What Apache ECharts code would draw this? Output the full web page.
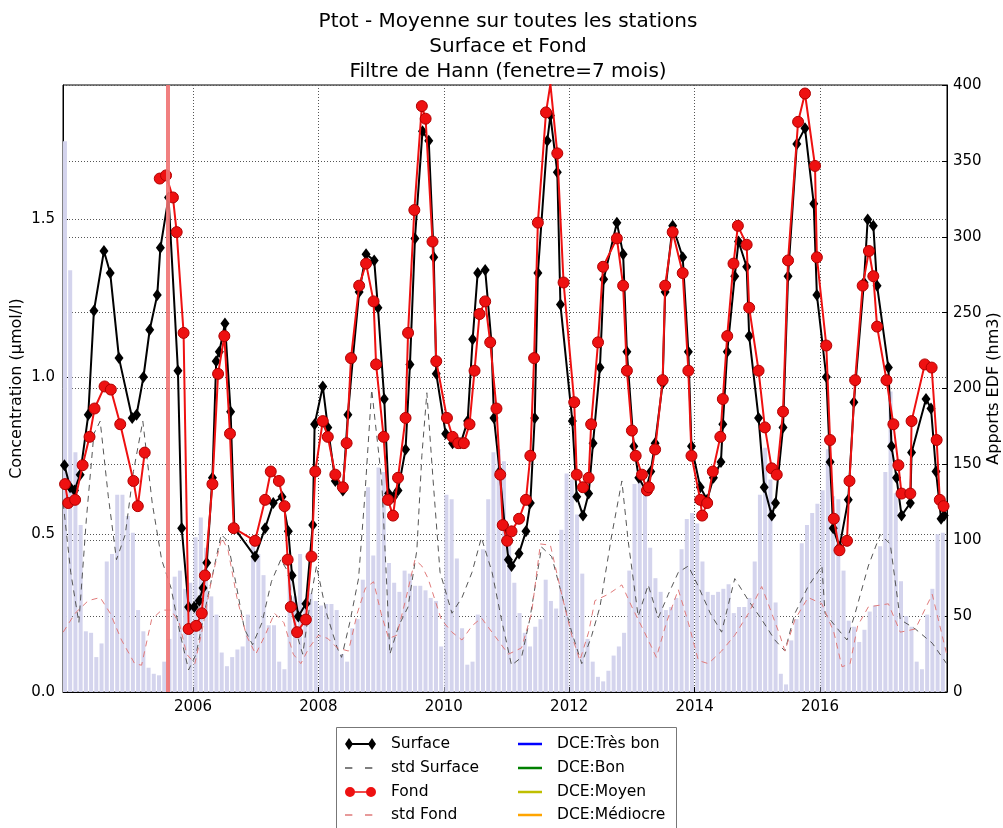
<!DOCTYPE html>
<html>
<head>
<meta charset="utf-8">
<script src="https://cdn.jsdelivr.net/npm/echarts@6/dist/echarts.min.js"></script>
<style>
  html, body { margin: 0; padding: 0; background: #fff; }
  #chart { width: 1003px; height: 828px; }
</style>
</head>
<body>
<div id="chart"></div>
<script>
// apports EDF (hm3), one bar per month from Dec 2003 to Dec 2017
const apports = [
  363, 278, 158, 110, 40, 39, 23, 32, 86, 91, 130, 130,
  116, 105, 54, 40, 16, 12, 11, 20, 35, 76, 80, 68,
  72, 102, 115, 95, 63, 51, 26, 17, 23, 28, 30, 51,
  102, 91, 77, 44, 44, 20, 15, 80, 63, 91, 56, 65,
  60, 57, 58, 58, 54, 25, 20, 42, 48, 74, 135, 90,
  148, 145, 85, 72, 66, 80, 78, 70, 70, 67, 62, 60,
  30, 130, 127, 88, 42, 18, 20, 51, 94, 127, 158, 160,
  152, 105, 72, 52, 39, 30, 43, 48, 74, 60, 55, 107,
  144, 140, 117, 78, 35, 20, 10, 7, 14, 24, 30, 39,
  80, 137, 140, 131, 95, 75, 66, 54, 56, 62, 94, 114,
  118, 111, 86, 66, 64, 66, 68, 71, 52, 56, 56, 62,
  86, 130, 161, 140, 59, 12, 5, 34, 48, 98, 110, 118,
  124, 133, 160, 129, 127, 80, 47, 43, 33, 41, 53, 57,
  96, 145, 198, 131, 73, 50, 43, 20, 15, 51, 68, 104,
  105
];
const firstMonth = 2003 + 11.5 / 12;

// Ptot surface [annee, umol/l]
const surface = [
  [2003.95, 0.72], [2004.04, 0.65], [2004.11, 0.64], [2004.20, 0.69], [2004.33, 0.88],
  [2004.42, 1.21], [2004.58, 1.40], [2004.68, 1.33], [2004.82, 1.06], [2005.03, 0.87],
  [2005.10, 0.88], [2005.21, 1.00], [2005.31, 1.15], [2005.43, 1.26], [2005.48, 1.41],
  [2005.61, 1.57], [2005.76, 1.02], [2005.82, 0.52], [2005.93, 0.27], [2006.02, 0.27],
  [2006.10, 0.29], [2006.16, 0.33], [2006.22, 0.41], [2006.31, 0.68], [2006.37, 1.05],
  [2006.42, 1.08], [2006.51, 1.17], [2006.60, 0.89], [2006.66, 0.52], [2006.99, 0.43],
  [2007.15, 0.52], [2007.28, 0.60], [2007.42, 0.62], [2007.52, 0.51], [2007.58, 0.37],
  [2007.68, 0.24], [2007.80, 0.28], [2007.91, 0.53], [2007.94, 0.85], [2008.07, 0.97],
  [2008.15, 0.84], [2008.27, 0.67], [2008.39, 0.64], [2008.47, 0.88], [2008.55, 1.06],
  [2008.65, 1.27], [2008.76, 1.39], [2008.89, 1.37], [2008.95, 1.22], [2009.05, 0.93],
  [2009.12, 0.63], [2009.20, 0.62], [2009.27, 0.64], [2009.39, 0.77], [2009.46, 1.04],
  [2009.54, 1.44], [2009.66, 1.78], [2009.76, 1.75], [2009.84, 1.38], [2009.88, 1.01],
  [2010.03, 0.82], [2010.14, 0.79], [2010.27, 0.79], [2010.38, 0.86], [2010.46, 1.12],
  [2010.54, 1.33], [2010.66, 1.34], [2010.76, 1.11], [2010.80, 0.87], [2010.89, 0.70],
  [2010.97, 0.53], [2011.03, 0.42], [2011.08, 0.40], [2011.20, 0.44], [2011.31, 0.51],
  [2011.38, 0.60], [2011.45, 0.87], [2011.50, 1.33], [2011.65, 1.75], [2011.70, 1.83],
  [2011.81, 1.65], [2011.86, 1.23], [2012.05, 0.86], [2012.12, 0.62], [2012.22, 0.56],
  [2012.31, 0.63], [2012.38, 0.79], [2012.49, 1.03], [2012.55, 1.31], [2012.76, 1.49],
  [2012.86, 1.39], [2012.92, 1.08], [2013.03, 0.78], [2013.11, 0.68], [2013.22, 0.64],
  [2013.30, 0.70], [2013.37, 0.79], [2013.49, 0.98], [2013.53, 1.27], [2013.65, 1.48],
  [2013.81, 1.38], [2013.90, 1.08], [2013.95, 0.78], [2014.09, 0.65], [2014.20, 0.61],
  [2014.30, 0.68], [2014.42, 0.73], [2014.45, 0.85], [2014.52, 1.08], [2014.64, 1.32],
  [2014.70, 1.43], [2014.83, 1.35], [2014.87, 1.13], [2015.02, 0.87], [2015.11, 0.65],
  [2015.23, 0.56], [2015.29, 0.60], [2015.41, 0.84], [2015.49, 1.32], [2015.63, 1.74],
  [2015.76, 1.79], [2015.90, 1.55], [2015.95, 1.26], [2016.10, 1.00], [2016.16, 0.73],
  [2016.21, 0.52], [2016.31, 0.46], [2016.45, 0.61], [2016.54, 0.92], [2016.70, 1.30],
  [2016.76, 1.50], [2016.85, 1.48], [2016.91, 1.29], [2017.09, 1.03], [2017.14, 0.78],
  [2017.22, 0.68], [2017.30, 0.56], [2017.44, 0.60], [2017.46, 0.76], [2017.69, 0.93],
  [2017.77, 0.90], [2017.85, 0.70], [2017.93, 0.55], [2017.98, 0.56]
];

// Ptot fond [annee, umol/l], null = trou dans la serie
const fond = [
  [2003.96, 0.66], [2004.01, 0.60], [2004.12, 0.61], [2004.24, 0.72], [2004.35, 0.81],
  [2004.43, 0.90], [2004.59, 0.97], [2004.69, 0.96], [2004.84, 0.85], [2005.05, 0.67],
  [2005.12, 0.59], [2005.23, 0.76], [2005.35, null],
  [2005.47, 1.63], [2005.57, 1.64], [2005.68, 1.57], [2005.74, 1.46], [2005.85, 1.14],
  [2005.93, 0.20], [2006.05, 0.21], [2006.14, 0.25], [2006.19, 0.37], [2006.31, 0.66],
  [2006.40, 1.01], [2006.50, 1.13], [2006.59, 0.82], [2006.65, 0.52], [2006.99, 0.48],
  [2007.15, 0.61], [2007.24, 0.70], [2007.37, 0.67], [2007.46, 0.59], [2007.51, 0.42],
  [2007.56, 0.27], [2007.66, 0.19], [2007.80, 0.23], [2007.89, 0.43], [2007.95, 0.70],
  [2008.07, 0.86], [2008.15, 0.81], [2008.27, 0.69], [2008.39, 0.65], [2008.45, 0.79],
  [2008.52, 1.06], [2008.65, 1.29], [2008.76, 1.36], [2008.88, 1.24], [2008.92, 1.04],
  [2009.04, 0.81], [2009.11, 0.61], [2009.19, 0.56], [2009.27, 0.68], [2009.39, 0.87],
  [2009.43, 1.14], [2009.53, 1.53], [2009.65, 1.86], [2009.71, 1.82], [2009.82, 1.43],
  [2009.88, 1.05], [2010.05, 0.87], [2010.14, 0.81], [2010.23, 0.79], [2010.32, 0.79],
  [2010.41, 0.85], [2010.49, 1.02], [2010.57, 1.20], [2010.66, 1.24], [2010.74, 1.11],
  [2010.84, 0.90], [2010.90, 0.69], [2010.94, 0.53], [2011.01, 0.48], [2011.08, 0.51],
  [2011.20, 0.55], [2011.31, 0.61], [2011.38, 0.75], [2011.44, 1.06], [2011.50, 1.49],
  [2011.63, 1.84], [2011.70, 1.93], [2011.81, 1.71], [2011.91, 1.30], [2012.08, 0.92],
  [2012.12, 0.69], [2012.22, 0.65], [2012.31, 0.68], [2012.35, 0.85], [2012.46, 1.11],
  [2012.54, 1.35], [2012.76, 1.44], [2012.86, 1.29], [2012.92, 1.02], [2013.00, 0.83],
  [2013.06, 0.75], [2013.16, 0.69], [2013.24, 0.64], [2013.27, 0.65], [2013.37, 0.77],
  [2013.49, 0.99], [2013.53, 1.29], [2013.65, 1.46], [2013.81, 1.33], [2013.90, 1.02],
  [2013.95, 0.75], [2014.09, 0.61], [2014.12, 0.56], [2014.20, 0.60], [2014.29, 0.70],
  [2014.41, 0.81], [2014.45, 0.93], [2014.52, 1.13], [2014.62, 1.36], [2014.69, 1.48],
  [2014.83, 1.42], [2014.87, 1.22], [2015.02, 1.02], [2015.12, 0.84], [2015.23, 0.71],
  [2015.31, 0.69], [2015.41, 0.89], [2015.49, 1.37], [2015.65, 1.81], [2015.76, 1.90],
  [2015.92, 1.67], [2015.95, 1.38], [2016.10, 1.10], [2016.16, 0.80], [2016.22, 0.55],
  [2016.31, 0.45], [2016.43, 0.48], [2016.47, 0.67], [2016.56, 0.99], [2016.68, 1.29],
  [2016.78, 1.40], [2016.85, 1.32], [2016.91, 1.16], [2017.06, 0.99], [2017.17, 0.85],
  [2017.25, 0.72], [2017.30, 0.63], [2017.44, 0.63], [2017.46, 0.86], [2017.67, 1.04],
  [2017.78, 1.03], [2017.86, 0.80], [2017.91, 0.61], [2017.97, 0.59]
];

// ecarts-types filtres
const stdSurface = [
  [2003.93, 0.60], [2004.05, 0.38], [2004.18, 0.22], [2004.30, 0.55], [2004.42, 0.82],
  [2004.52, 0.86], [2004.65, 0.62], [2004.78, 0.42], [2004.92, 0.50], [2005.05, 0.70],
  [2005.20, 0.86], [2005.35, 0.60], [2005.50, 0.42], [2005.65, 0.33], [2005.80, 0.18],
  [2005.93, 0.07], [2006.05, 0.12], [2006.18, 0.25], [2006.32, 0.38], [2006.45, 0.50],
  [2006.55, 0.48], [2006.68, 0.35], [2006.82, 0.20], [2006.95, 0.15], [2007.10, 0.22],
  [2007.25, 0.35], [2007.40, 0.42], [2007.52, 0.38], [2007.63, 0.20], [2007.75, 0.12],
  [2007.88, 0.30], [2007.97, 0.40], [2008.13, 0.25], [2008.30, 0.14], [2008.37, 0.11],
  [2008.50, 0.22], [2008.64, 0.36], [2008.74, 0.62], [2008.85, 0.96], [2009.01, 0.67],
  [2009.09, 0.34], [2009.14, 0.12], [2009.28, 0.21], [2009.43, 0.27], [2009.57, 0.45],
  [2009.65, 0.75], [2009.73, 0.95], [2009.83, 0.67], [2009.94, 0.38], [2010.13, 0.25],
  [2010.29, 0.30], [2010.45, 0.38], [2010.60, 0.49], [2010.77, 0.38], [2010.92, 0.23],
  [2011.08, 0.085], [2011.24, 0.11], [2011.37, 0.23], [2011.56, 0.46], [2011.72, 0.43],
  [2011.88, 0.31], [2012.04, 0.19], [2012.20, 0.09], [2012.36, 0.18], [2012.49, 0.27],
  [2012.68, 0.50], [2012.84, 0.67], [2012.94, 0.48], [2013.10, 0.24], [2013.26, 0.34],
  [2013.42, 0.235], [2013.58, 0.31], [2013.74, 0.38], [2013.90, 0.40], [2014.06, 0.335],
  [2014.25, 0.25], [2014.43, 0.19], [2014.64, 0.36], [2014.86, 0.29], [2015.07, 0.23],
  [2015.28, 0.165], [2015.44, 0.13], [2015.60, 0.25], [2015.81, 0.335], [2016.03, 0.40],
  [2016.08, 0.25], [2016.24, 0.21], [2016.43, 0.165], [2016.56, 0.25], [2016.77, 0.40],
  [2016.96, 0.50], [2017.12, 0.47], [2017.28, 0.23], [2017.52, 0.20], [2017.79, 0.155],
  [2018.02, 0.09]
];

const stdFond = [
  [2003.93, 0.19], [2004.12, 0.25], [2004.33, 0.29], [2004.52, 0.30], [2004.68, 0.25],
  [2004.86, 0.165], [2005.07, 0.09], [2005.18, 0.085], [2005.34, 0.23], [2005.50, 0.26],
  [2005.65, 0.26], [2005.78, 0.22], [2005.90, 0.12], [2006.03, 0.09], [2006.14, 0.19],
  [2006.30, 0.36], [2006.46, 0.49], [2006.56, 0.45], [2006.70, 0.30], [2006.85, 0.18],
  [2007.00, 0.12], [2007.15, 0.18], [2007.30, 0.25], [2007.45, 0.22], [2007.60, 0.12],
  [2007.72, 0.09], [2007.85, 0.14], [2008.00, 0.18], [2008.15, 0.17], [2008.30, 0.14],
  [2008.48, 0.13], [2008.62, 0.25], [2008.75, 0.33], [2008.88, 0.35], [2009.00, 0.25],
  [2009.12, 0.17], [2009.25, 0.18], [2009.40, 0.30], [2009.54, 0.42], [2009.65, 0.40],
  [2009.75, 0.36], [2009.96, 0.23], [2010.13, 0.19], [2010.29, 0.165], [2010.45, 0.21],
  [2010.60, 0.235], [2010.82, 0.176], [2011.03, 0.12], [2011.24, 0.14], [2011.40, 0.25],
  [2011.54, 0.47], [2011.70, 0.466], [2011.88, 0.31], [2012.04, 0.18], [2012.17, 0.10],
  [2012.31, 0.19], [2012.41, 0.29], [2012.62, 0.31], [2012.84, 0.34], [2013.00, 0.27],
  [2013.20, 0.19], [2013.39, 0.11], [2013.55, 0.22], [2013.74, 0.325], [2013.90, 0.22],
  [2014.06, 0.10], [2014.22, 0.09], [2014.43, 0.13], [2014.64, 0.18], [2014.86, 0.25],
  [2015.07, 0.335], [2015.23, 0.25], [2015.36, 0.18], [2015.44, 0.13], [2015.60, 0.23],
  [2015.81, 0.30], [2016.03, 0.28], [2016.22, 0.19], [2016.35, 0.08], [2016.48, 0.09],
  [2016.60, 0.21], [2016.77, 0.27], [2017.09, 0.28], [2017.28, 0.19], [2017.52, 0.20],
  [2017.79, 0.31], [2018.02, 0.12]
];

const yearTicks = [2006, 2008, 2010, 2012, 2014, 2016];
const refDate = 2005.585; // trait rouge vertical
const dceNames = ['DCE:Très bon', 'DCE:Bon', 'DCE:Moyen', 'DCE:Médiocre'];
const dceColors = ['#0000ff', '#008000', '#bfbf00', '#ffa500'];

const font = 'DejaVu Sans';
const chart = echarts.init(document.getElementById('chart'));

const dotted = { color: '#555', type: [1, 2], width: 1 };

// icones de legende facon matplotlib (deux marqueurs aux extremites)
const iconSurface = 'path://M0,6L4,0L8,6L4,12Z M4,5L27,5L27,7L4,7Z M23,6L27,0L31,6L27,12Z M41,6L41,6.01';
const iconFond = 'path://M0,5A5,5,0,1,1,10,5A5,5,0,1,1,0,5Z M5,4.2L26,4.2L26,5.8L5,5.8Z M21,5A5,5,0,1,1,31,5A5,5,0,1,1,21,5Z M41,5L41,5.01';
const iconDash = 'path://M2,0h7v1.2h-7z M21,0h7v1.2h-7z M41,0L41,0.01';
const iconLine = 'path://M0,0h24v2.6h-24z M34,0L34,0.01';

const legendItems = [
  { name: 'Surface', icon: iconSurface, left: 345, row: 745, w: 41, h: 12 },
  { name: 'std Surface', icon: iconDash, left: 345, row: 769, w: 41, h: 1.4 },
  { name: 'Fond', icon: iconFond, left: 345, row: 793, w: 41, h: 10 },
  { name: 'std Fond', icon: iconDash, left: 345, row: 816, w: 41, h: 1.4 },
  { name: dceNames[0], icon: iconLine, left: 518, row: 745, w: 34, h: 2.6 },
  { name: dceNames[1], icon: iconLine, left: 518, row: 769, w: 34, h: 2.6 },
  { name: dceNames[2], icon: iconLine, left: 518, row: 793, w: 34, h: 2.6 },
  { name: dceNames[3], icon: iconLine, left: 518, row: 816, w: 34, h: 2.6 }
];

const option = {
  animation: false,
  textStyle: { fontFamily: font },
  title: {
    text: 'Ptot - Moyenne sur toutes les stations\nSurface et Fond\nFiltre de Hann (fenetre=7 mois)',
    left: 503,
    top: 4,
    textAlign: 'center',
    textStyle: { fontFamily: font, fontSize: 20, fontWeight: 'normal', color: '#000', lineHeight: 25 }
  },
  grid: {
    left: 63, right: 56, top: 85, bottom: 136,
    outerBoundsMode: 'none',
    containLabel: false,
    show: true, borderColor: '#000', borderWidth: 1, backgroundColor: 'transparent'
  },
  graphic: [{
    type: 'rect',
    shape: { x: 336.5, y: 727.5, width: 340, height: 110 },
    style: { fill: '#fff', stroke: '#777', lineWidth: 1 },
    z: -1
  }],
  legend: legendItems.map(it => ({
    data: [{ name: it.name, icon: it.icon }],
    left: it.left,
    top: it.row - 9,
    padding: 0,
    itemWidth: it.w,
    itemHeight: it.h,
    itemStyle: { borderWidth: 0 },
    textStyle: { fontFamily: font, fontSize: 15.5, color: '#000' }
  })),
  xAxis: {
    type: 'value',
    min: 2003.927,
    max: 2018.025,
    axisLine: { lineStyle: { color: '#000' } },
    axisTick: { inside: true, length: 5, customValues: yearTicks, lineStyle: { color: '#000' } },
    axisLabel: { customValues: yearTicks, color: '#000', fontSize: 15, margin: 8, formatter: v => String(v) },
    splitLine: { show: true, lineStyle: dotted }
  },
  yAxis: [
    {
      type: 'value',
      min: 0,
      max: 1.927,
      interval: 0.5,
      name: 'Concentration (µmol/l)',
      nameLocation: 'middle',
      nameGap: 38,
      nameMoveOverlap: false,
      nameTextStyle: { fontFamily: font, fontSize: 16, color: '#000' },
      axisLine: { show: true, lineStyle: { color: '#000' } },
      axisTick: { show: true, inside: true, length: 5, lineStyle: { color: '#000' } },
      axisLabel: { color: '#000', fontSize: 15, showMaxLabel: false, formatter: v => v.toFixed(1) },
      splitLine: { show: true, lineStyle: dotted }
    },
    {
      type: 'value',
      position: 'right',
      min: 0,
      max: 400,
      interval: 50,
      name: 'Apports EDF (hm3)',
      nameLocation: 'middle',
      nameGap: 39,
      nameMoveOverlap: false,
      nameTextStyle: { fontFamily: font, fontSize: 16, color: '#000' },
      axisLine: { show: true, lineStyle: { color: '#000' } },
      axisTick: { show: true, inside: true, length: 5, lineStyle: { color: '#000' } },
      axisLabel: { color: '#000', fontSize: 15, margin: 6 },
      splitLine: { show: true, lineStyle: dotted }
    }
  ],
  series: [
    {
      name: 'Apports EDF',
      type: 'bar',
      yAxisIndex: 1,
      barWidth: 4,
      itemStyle: { color: '#d4d4ed' },
      z: 1,
      data: apports.map((v, i) => [firstMonth + i / 12, v]),
      markLine: {
        silent: true,
        symbol: 'none',
        label: { show: false },
        lineStyle: { color: '#f07272', width: 4, type: 'solid', opacity: 0.9 },
        data: [{ xAxis: refDate }]
      }
    },
    {
      name: 'std Surface',
      type: 'line',
      symbol: 'none',
      z: 2,
      lineStyle: { color: '#555', width: 1, type: [6, 5] },
      itemStyle: { color: '#555' },
      data: stdSurface
    },
    {
      name: 'std Fond',
      type: 'line',
      symbol: 'none',
      z: 2,
      lineStyle: { color: '#e07a7a', width: 1, type: [6, 5] },
      itemStyle: { color: '#e07a7a' },
      data: stdFond
    },
    {
      name: 'Surface',
      type: 'line',
      z: 3,
      symbol: 'diamond',
      symbolSize: [9, 12],
      lineStyle: { color: '#000', width: 2 },
      itemStyle: { color: '#000' },
      data: surface
    },
    {
      name: 'Fond',
      type: 'line',
      z: 4,
      symbol: 'circle',
      symbolSize: 11,
      connectNulls: false,
      lineStyle: { color: '#ee1111', width: 2 },
      itemStyle: { color: '#ee1111', borderColor: '#b00000', borderWidth: 1 },
      data: fond
    }
  ].concat(dceNames.map((n, k) => ({
    name: n,
    type: 'line',
    symbol: 'none',
    lineStyle: { color: dceColors[k], width: 3 },
    itemStyle: { color: dceColors[k] },
    data: []
  })))
};

chart.setOption(option);
</script>
</body>
</html>
